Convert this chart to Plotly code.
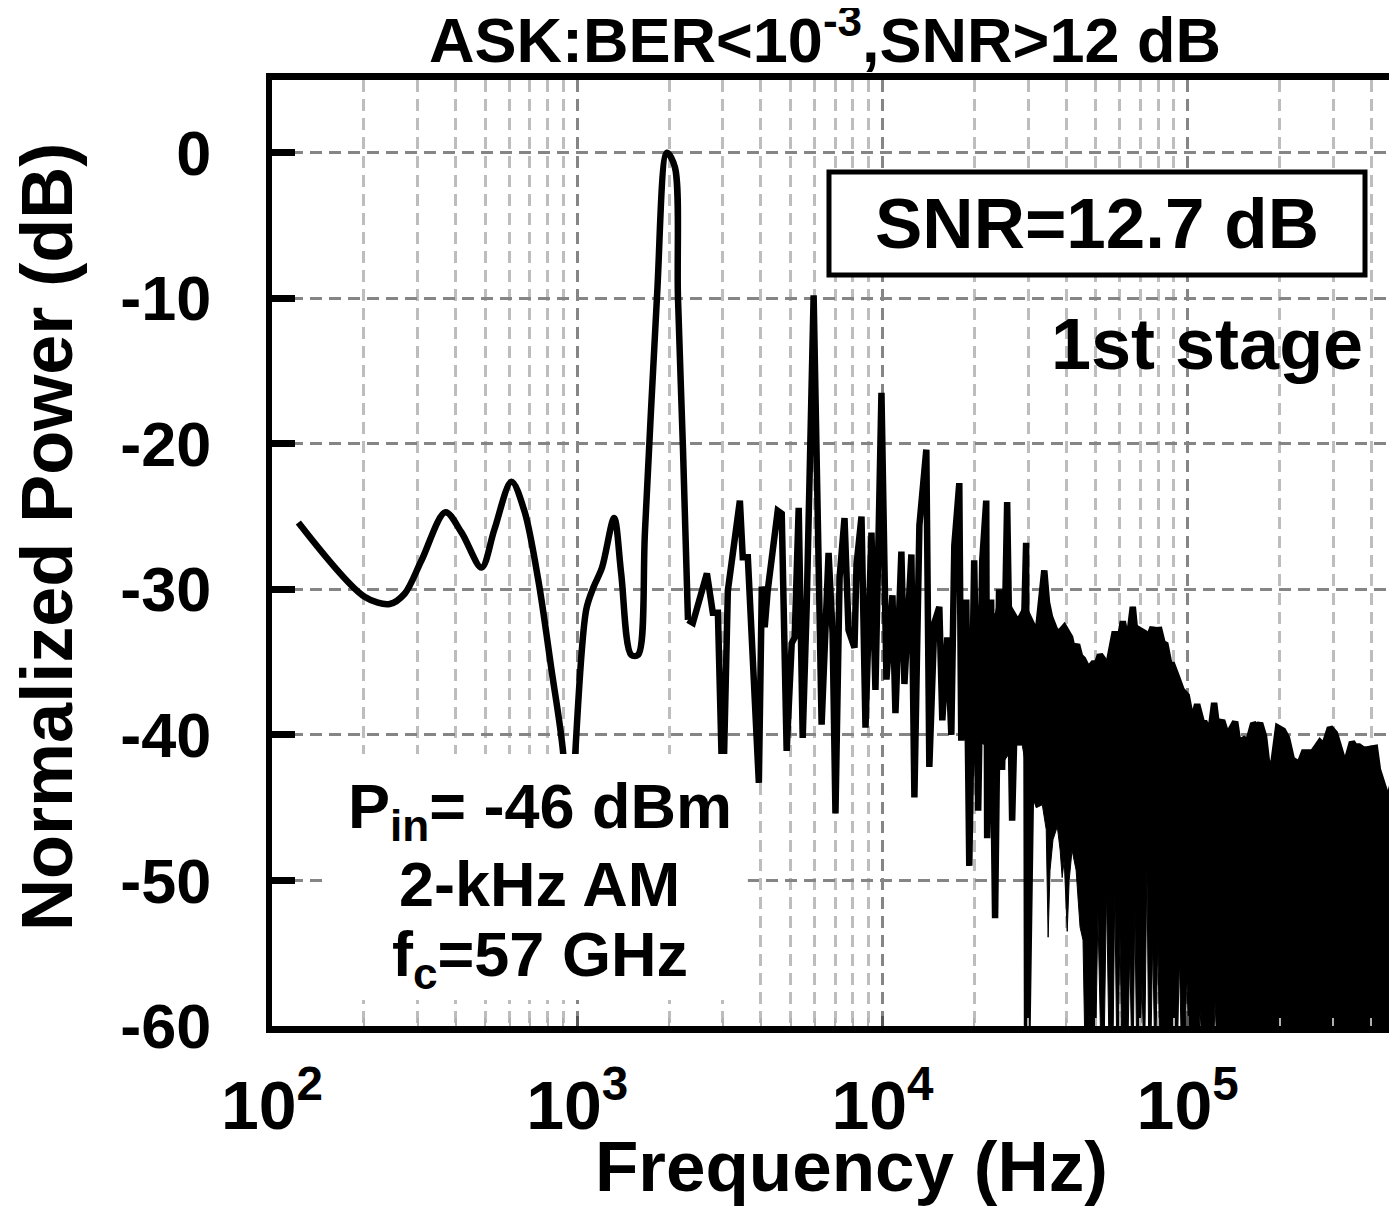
import plotly.graph_objects as go

# ---------------- data ----------------
# smooth low-frequency part of the spectrum (Hz, dB)
low_f = [122, 201, 243, 272, 309, 370, 418, 486, 535, 609, 671, 746, 822, 900, 942,
         985, 1070, 1128, 1206, 1321, 1393, 1502, 1582, 1668, 1825, 1968, 2090, 2138,
         2221, 2306]
low_db = [-25.4, -30.5, -31.0, -30.3, -28.0, -24.7, -26.1, -28.5, -25.9, -22.6, -24.6,
          -29.4, -35.4, -41.3, -50.0, -41.3, -31.4, -29.9, -28.5, -25.1, -28.9, -34.5,
          -34.5, -25.9, -9.9, 0.0, -1.0, -9.9, -20.4, -32.1]

# individual strokes of the mid-frequency part (Hz, dB)
mid_f = [2306, 2393, 2660, 2781, 2890, 3000, 3115, 3411, 3486, 3622, 3936, 4025, 4114,
         4207, 4538, 4677, 4855, 5043, 5157, 5316, 5479, 5646, 5950, 6133, 6319, 6660,
         6865, 7015, 7237, 7511, 7742, 8099, 8224, 8537, 8799, 9204, 9484, 9925, 10305,
         10783, 11029, 11535, 11803, 12440, 12724, 13213, 13924, 14242, 14791, 15357,
         15708, 16313, 16812, 17196, 17854, 18120, 18820, 19250, 19980, 20590, 21230,
         21880, 22030, 22700, 23390, 24100, 24660, 25620, 26600, 27610, 28470, 29560,
         29780, 31200]
mid_db = [-32.1, -32.3, -28.9, -31.6, -31.6, -45.0, -30.1, -23.9, -27.8, -27.8, -43.3,
          -29.8, -32.6, -30.1, -24.6, -24.8, -41.1, -33.7, -33.3, -24.4, -40.2, -31.2,
          -9.8, -22.5, -39.3, -27.5, -33.0, -45.4, -29.2, -25.1, -32.8, -34.0, -28.3,
          -25.0, -39.5, -26.1, -36.9, -16.5, -36.2, -30.4, -38.5, -27.4, -36.5, -27.6,
          -44.3, -25.6, -20.4, -42.2, -32.3, -31.2, -39.0, -33.3, -40.0, -27.0, -22.7,
          -40.4, -30.7, -49.0, -28.0, -45.2, -28.0, -23.9, -47.1, -30.7, -52.6, -30.0,
          -42.4, -24.0, -45.9, -32.3, -40.4, -26.8, -62.0, -32.6]

# dense high-frequency noise: upper outline of the black mass (Hz, dB)
mass_top_f = [18700, 19800, 20900, 22500, 23800, 24700, 26200, 27800, 29300, 31200,
              32400, 33900, 34600, 35400, 36800, 37900, 39400, 40300, 41200, 42100,
              43400, 44400, 45400, 47200, 49000, 50500, 51600, 52800, 54400, 57700,
              59100, 61300, 63600, 66100, 68100, 69700, 72300, 74000, 76800, 79200,
              80400, 82800, 84600, 87200, 89100, 92500, 95500, 99300, 103400, 107400,
              111500, 114000, 118500, 122100, 124900, 129700, 134600, 143100, 146400,
              153100, 157800, 164000, 169000, 172700, 177900, 182000, 190400, 197700,
              205300, 211500, 219600, 228100, 233300, 240300, 247600, 257200, 265100,
              271200, 279500, 292500, 303800, 315500, 327700, 345300, 353200, 364100,
              375300, 386700, 398600, 410800, 420100, 436100, 449200, 459400, 477100,
              495500]
mass_top_db = [-34.2, -33.0, -31.4, -31.8, -31.9, -30.2, -31.4, -32.3, -31.4, -32.6,
               -32.6, -28.7, -30.9, -31.9, -32.8, -33.0, -32.6, -33.1, -33.3, -34.2,
               -33.8, -34.6, -34.8, -35.5, -35.1, -35.1, -34.5, -34.8, -35.7, -32.9,
               -34.2, -32.2, -34.0, -31.2, -34.0, -32.8, -33.0, -33.5, -32.6, -34.2,
               -32.6, -33.7, -33.8, -35.2, -35.2, -36.1, -36.9, -37.3, -39.2, -37.9,
               -39.2, -39.2, -39.9, -37.8, -39.5, -39.0, -40.1, -39.1, -40.5, -40.3,
               -40.5, -39.2, -39.5, -39.2, -40.1, -41.9, -42.1, -39.5, -39.7, -40.2,
               -41.7, -41.9, -41.9, -41.2, -41.2, -41.2, -40.8, -40.5, -40.8, -39.5,
               -39.9, -41.0, -42.2, -40.5, -40.8, -40.8, -41.0, -41.0, -41.0, -40.9,
               -42.4, -43.3, -44.3, -44.1, -42.9, -42.4]

# lower outline of the black mass, incl. the thin white gaps reaching up from -60 (Hz, dB)
mass_bot_f = [18700, 20100, 21700, 23400, 25200, 27200, 28700, 30500, 31900, 33400,
              34400, 34900, 35400, 36200, 37400, 38200, 38800, 39400, 40300, 40900,
              41800, 43100, 44400, 45400, 46100, 49900, 50800, 52000, 53200, 54200,
              55300, 56900, 57700, 58600, 59100, 60000, 60900, 63600, 64600, 65600,
              66300, 67100, 68100, 69700, 70800, 71800, 72300, 73500, 74600, 75700,
              76800, 78000, 78600, 79800, 81000, 92500, 93900, 95500, 97800, 99300,
              101100, 108200, 109900, 111500, 121200, 123000, 124900, 495500]
mass_bot_db = [-40.0, -40.3, -40.7, -40.7, -41.7, -40.7, -40.7, -43.8, -45.0, -44.8,
               -46.5, -53.9, -49.3, -47.2, -46.3, -47.9, -49.8, -48.6, -53.5, -50.0,
               -47.9, -49.3, -53.2, -54.1, -62.0, -62.0, -52.2, -62.0, -62.0, -50.7,
               -62.0, -62.0, -50.8, -62.0, -62.0, -53.6, -62.0, -62.0, -54.9, -62.0,
               -62.0, -51.9, -62.0, -62.0, -57.0, -62.0, -62.0, -49.1, -62.0, -62.0,
               -54.1, -62.0, -62.0, -54.0, -62.0, -62.0, -55.3, -62.0, -62.0, -56.4,
               -62.0, -62.0, -58.9, -62.0, -62.0, -58.4, -62.0, -62.0]

x_tickvals = [100, 1000, 10000, 100000]
x_ticktext = ["10<sup>2</sup>", "10<sup>3</sup>", "10<sup>4</sup>", "10<sup>5</sup>"]
y_tickvals = [-60, -50, -40, -30, -20, -10, 0]
y_ticktext = ["-60", "-50", "-40", "-30", "-20", "-10", "0"]

# ---------------- figure ----------------
FONT = "Liberation Sans, Arial, Helvetica, sans-serif"
LW = 6.5

fig = go.Figure()
fig.add_trace(go.Scatter(x=low_f, y=low_db, mode="lines",
                         line=dict(color="black", width=LW, shape="spline", smoothing=0.9),
                         hoverinfo="skip", showlegend=False))
fig.add_trace(go.Scatter(x=mid_f, y=mid_db, mode="lines",
                         line=dict(color="black", width=LW),
                         hoverinfo="skip", showlegend=False))
poly_x = mass_top_f + mass_bot_f[::-1]
poly_y = mass_top_db + mass_bot_db[::-1]
fig.add_trace(go.Scatter(x=poly_x, y=poly_y, mode="lines", fill="toself",
                         fillcolor="black", line=dict(color="black", width=1),
                         hoverinfo="skip", showlegend=False))
fig.add_trace(go.Scatter(x=mass_top_f, y=mass_top_db, mode="lines",
                         line=dict(color="black", width=LW),
                         hoverinfo="skip", showlegend=False))

fig.update_layout(
    width=1397, height=1213,
    margin=dict(l=264, r=0, t=72, b=195),
    paper_bgcolor="white", plot_bgcolor="white",
    showlegend=False,
    font=dict(family=FONT, color="black"),
)

fig.update_xaxes(
    type="log", range=[2, 5.712],
    tickmode="array", tickvals=x_tickvals,
    ticktext=["<b>" + t + "</b>" for t in x_ticktext],
    tickfont=dict(family=FONT, size=68, color="black"),
    ticks="inside", ticklen=10, tickwidth=3, tickcolor="#555555",
    ticklabelstandoff=14,
    showline=True, linewidth=7, linecolor="black", mirror=True,
    showgrid=True, gridcolor="#858585", gridwidth=2.5, griddash="12px,7px",
    minor=dict(dtick="D1", showgrid=True, gridcolor="#bdbdbd", gridwidth=2.5,
               griddash="12px,7px", ticks="inside", ticklen=8, tickwidth=2,
               tickcolor="#b0b0b0"),
    zeroline=False,
)
fig.update_yaxes(
    range=[-60, 5],
    tickmode="array", tickvals=y_tickvals,
    ticktext=["<b>" + t + "</b>" for t in y_ticktext],
    tickfont=dict(family=FONT, size=63, color="black"),
    ticks="inside", ticklen=23, tickwidth=7, tickcolor="black",
    ticklabelstandoff=42,
    showline=True, linewidth=6, linecolor="black",
    showgrid=True, gridcolor="#858585", gridwidth=2.5, griddash="12px,7px",
    zeroline=False,
)

# white panel behind the lower-left text block, and the SNR box
fig.add_shape(type="rect", xref="paper", yref="paper", x0=0.0468, x1=0.420,
              y0=0.0275, y1=0.2875, fillcolor="white", line=dict(width=0), layer="above")
fig.add_shape(type="rect", xref="paper", yref="paper", x0=0.4916, x1=0.9647,
              y0=0.794, y1=0.9027, fillcolor="white",
              line=dict(color="black", width=5), layer="above")

def note(text, x, y, size, xanchor="center", yanchor="middle", angle=0):
    fig.add_annotation(text="<b>" + text + "</b>", xref="paper", yref="paper",
                       x=x, y=y, xanchor=xanchor, yanchor=yanchor, showarrow=False,
                       textangle=angle, font=dict(family=FONT, size=size, color="black"))

note("SNR=12.7 dB", 0.7281, 0.848, 71)
note("1st stage", 0.9647, 0.7205, 72, xanchor="right")
note("P<sub>in</sub>= -46 dBm", 0.2365, 0.228, 63)
note("2-kHz AM", 0.2365, 0.150, 63)
note("f<sub>c</sub>=57 GHz", 0.2365, 0.071, 63)
note("ASK:BER&lt;10<sup>-3</sup>,SNR&gt;12 dB", 0.4877, 1.047, 63)
note("Frequency (Hz)", 0.5115, -0.148, 71)
note("Normalized Power (dB)", -0.1986, 0.517, 72, angle=-90)

fig.write_html("out.html")
